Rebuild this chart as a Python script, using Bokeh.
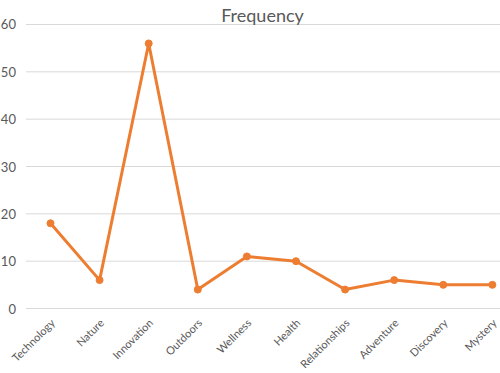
from math import pi
from bokeh.plotting import figure
from bokeh.models import Range1d, ColumnDataSource, Label
from bokeh.core.properties import value
from bokeh.embed import file_html
from bokeh.resources import INLINE

title_text = "Frequency"
categories = ["Technology", "Nature", "Innovation", "Outdoors", "Wellness",
              "Health", "Relationships", "Adventure", "Discovery", "Mystery"]
frequency = [18, 6, 56, 4, 11, 10, 4, 6, 5, 5]
y_ticks = [0, 10, 20, 30, 40, 50, 60]
y_tick_labels = ["0", "10", "20", "30", "40", "50", "60"]

X0, X1 = -1.018, 9.165
Y0, Y1 = -13.73, 65.07

idx = list(range(len(categories)))
src = ColumnDataSource(dict(x=idx, y=frequency, name=categories, base=[0] * len(idx)))
grid_src = ColumnDataSource(dict(y=y_ticks, label=y_tick_labels,
                                 x0=[-0.5] * len(y_ticks), x1=[X1 + 1] * len(y_ticks)))

p = figure(width=500, height=373, output_backend="svg", toolbar_location=None,
           x_range=Range1d(X0, X1), y_range=Range1d(Y0, Y1),
           x_axis_type=None, y_axis_type=None,
           min_border_right=0, min_border_top=0,
           min_border_left=0, min_border_bottom=0)
p.outline_line_color = None
p.background_fill_color = "white"
p.border_fill_color = "white"
p.grid.visible = False

# chart title
p.add_layout(Label(x=262, y=359, x_units="screen", y_units="screen",
                   text=title_text, text_align="center", text_baseline="middle",
                   text_font="Lato", text_font_size="18px", text_color="#595959"))

# horizontal gridlines
p.segment(x0="x0", x1="x1", y0="y", y1="y", source=grid_src,
          line_color="#d9d9d9", line_width=1)
# y tick labels
p.text(x="x0", y="y", text="label", source=grid_src, x_offset=-10,
       text_align="right", text_baseline="middle",
       text_font=value("Lato"), text_font_size="13px", text_color="#595959")

p.line("x", "y", source=src, line_color="#ED7D31", line_width=3)
p.scatter("x", "y", source=src, size=7, fill_color="#ED7D31", line_color="#ED7D31")

# category labels
p.text("x", "base", text="name", source=src, angle=pi / 4,
       text_align="right", text_baseline="middle", y_offset=12, x_offset=2,
       text_font=value("Lato"), text_font_size="11px", text_color="#595959")

open("out.html", "w").write(file_html(p, INLINE))
